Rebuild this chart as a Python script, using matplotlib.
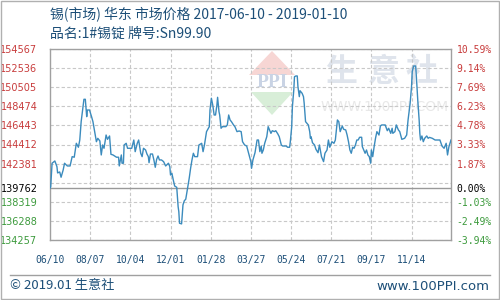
import numpy as np
import pandas as pd
import matplotlib
matplotlib.use("Agg")
import matplotlib.pyplot as plt
from matplotlib.patches import Polygon, Rectangle
from matplotlib.lines import Line2D

plt.rcParams['font.family'] = ['Noto Sans CJK SC', 'DejaVu Sans']

# --- dados ---
start = pd.Timestamp("2017-06-10")
days = [0, 1, 3, 7, 10, 11, 14, 16, 19, 21, 25, 29, 32, 35, 38, 41, 43, 45, 47, 49,
        51, 53, 54, 57, 60, 62, 65, 67, 69, 72, 74, 76, 78, 81, 83, 86, 88, 91, 96, 99,
        100, 103, 104, 106, 107, 110, 112, 118, 121, 123, 126, 128, 131, 133, 135, 138, 140, 142, 143, 145,
        148, 150, 152, 154, 156, 158, 161, 164, 167, 171, 173, 174, 176, 178, 180, 183, 185, 186, 187, 190,
        192, 194, 196, 199, 201, 203, 205, 207, 209, 213, 215, 219, 221, 223, 226, 230, 231, 233, 235, 237,
        239, 241, 242, 244, 245, 247, 249, 254, 256, 258, 260, 262, 265, 267, 270, 273, 276, 278, 281, 284,
        288, 290, 291, 293, 296, 299, 301, 303, 305, 306, 308, 310, 313, 315, 317, 319, 321, 324, 326, 329,
        331, 334, 336, 341, 343, 346, 347, 349, 350, 352, 353, 355, 357, 358, 360, 361, 364, 366, 367, 369,
        371, 373, 375, 376, 377, 379, 382, 384, 387, 389, 392, 394, 395, 397, 400, 402, 404, 407, 410, 412,
        415, 417, 419, 422, 424, 427, 429, 431, 433, 435, 437, 439, 441, 443, 445, 447, 450, 451, 453, 455,
        457, 459, 461, 463, 464, 466, 468, 470, 472, 475, 477, 479, 484, 487, 489, 492, 494, 495, 498, 500,
        503, 505, 508, 512, 515, 517, 520, 522, 523, 525, 528, 529, 531, 533, 534, 535, 537, 539, 541, 544,
        546, 548, 552, 556, 561, 563, 566, 569, 572, 574, 576, 579]
prices = [139762, 139930, 142420, 142660, 142060, 141390, 141490, 140930, 141700, 142420, 142130, 142130, 143120, 143060, 144540, 144120, 144890, 146840, 148080, 149220,
          149220, 147370, 148080, 148080, 147370, 146840, 145600, 144710, 145070, 144790, 143300, 144360, 144010, 145420, 144960, 145320, 143370, 143300, 143060, 143060,
          142130, 143300, 142420, 142420, 144360, 144540, 144010, 144010, 144890, 143650, 144540, 144890, 143480, 143120, 144010, 143830, 143400, 143120, 142480, 143400,
          143400, 142770, 141990, 142840, 143190, 142770, 142770, 142590, 142130, 142420, 142060, 141170, 141350, 140640, 140000, 139860, 137800, 137270, 136040, 135970,
          137990, 138440, 138590, 139930, 140820, 141880, 142770, 143480, 143120, 143120, 144360, 144540, 143650, 144360, 145780, 146310, 148080, 149330, 148610, 147550,
          147550, 148610, 149430, 147900, 147550, 146140, 146310, 146310, 146490, 147550, 147020, 146840, 146490, 146310, 145780, 145850, 145780, 144710, 144360, 144250,
          143120, 142590, 141880, 142770, 143540, 144890, 144890, 143650, 144250, 143480, 143830, 144540, 145240, 146310, 145960, 145600, 145880, 145780, 145880, 145530,
          145240, 144360, 144250, 144250, 144120, 144120, 144710, 146310, 148430, 150210, 151620, 151700, 151700, 150560, 149500, 150130, 149860, 149500, 148800, 146840,
          146670, 146490, 145780, 145070, 145240, 144600, 144360, 143900, 143540, 144360, 143120, 142770, 142590, 143480, 143830, 144890, 144120, 144710, 144540, 144890,
          147020, 146840, 145780, 146380, 146030, 145960, 145420, 144710, 143830, 143480, 144120, 144010, 144360, 144890, 144890, 145180, 145180, 144180, 143830, 143480,
          143830, 143300, 143120, 142420, 143830, 143120, 144180, 145070, 145780, 145420, 146380, 146490, 146490, 145880, 146140, 145600, 146140, 145600, 145780, 146490,
          145960, 145780, 144960, 145070, 145420, 147020, 148800, 150560, 152150, 152760, 152760, 151620, 149150, 147020, 145600, 144890, 145320, 144710, 145070, 145320,
          145070, 145170, 145070, 144890, 144890, 144890, 144250, 144010, 144540, 143300, 144180, 144890]

base_price = 139762
y_min, y_max = 134257, 154567
step = 2031
grid_vals = [y_max - k * step for k in range(11)]
label_vals = [154567, 152536, 150505, 148474, 146443, 144412, 142381, 139762, 138319, 136288, 134257]
tick_days = list(range(0, 579, 58))
end_day = 579

title1 = "锡(市场) 华东 市场价格 2017-06-10 - 2019-01-10"
title2 = "品名:1#锡锭 牌号:Sn99.90"

# --- cores ---
RED = "#c83c3c"
GREEN = "#3c9a3c"
BLUE_TXT = "#1d4f78"
LINE = "#3b8bbd"
GRID = "#c8c8c8"

fig = plt.figure(figsize=(5, 3), dpi=100)
ax = fig.add_axes([50 / 500, 1 - 240 / 300, 401 / 500, 191 / 300])
ax.patch.set_alpha(0)


def px(x, y):
    return (x / 500, 1 - y / 300)


# marca d'água
red_tri = Polygon([px(272, 51), px(249, 75), px(295, 75)], closed=True,
                  transform=fig.transFigure, facecolor="#f7d6d4", edgecolor="none", zorder=-2)
green_tri = Polygon([px(251, 92), px(293, 92), px(272, 115)], closed=True,
                    transform=fig.transFigure, facecolor="#d8eed8", edgecolor="none", zorder=-2)
fig.patches.extend([red_tri, green_tri])
fig.text(*px(272, 83), "PPI", ha="center", va="center", fontsize=14, fontweight="bold",
         family="Liberation Serif", color="#c9d3e4", zorder=-1)
for cx, ch in zip([341, 384, 422], "生意社"):
    fig.text(*px(cx, 72), ch, ha="center", va="center", fontsize=23, fontweight="bold",
             color="#dfe4ec", zorder=-1)
fig.text(*px(385, 107), "WWW.100PPI.COM", ha="center", va="center", fontsize=10,
         family="DejaVu Sans", color="#e8e8e8", zorder=-1)

# grade
for v in grid_vals:
    ax.axhline(v, color=GRID, lw=0.8, ls=(0, (3, 2)), zorder=1)
for d in tick_days[1:]:
    ax.axvline(d, color=GRID, lw=0.8, ls=(0, (3, 2)), zorder=1)
ax.axhline(base_price, color="#999999", lw=1.0, zorder=2)

ax.plot(days, prices, color=LINE, lw=1.0, zorder=3)

ax.set_xlim(0, end_day)
ax.set_ylim(y_min, y_max)
for s in ax.spines.values():
    s.set_color("#a0a0a0")
    s.set_linewidth(1.0)

# eixo y esquerdo
ax.set_yticks(label_vals)
ax.set_yticklabels([str(v) for v in label_vals], family="DejaVu Sans", fontsize=7)
for lab, v in zip(ax.get_yticklabels(), label_vals):
    lab.set_color("black" if v == base_price else (RED if v > base_price else GREEN))
ax.tick_params(axis="y", length=0, pad=9)

# eixo y direito
ax2 = ax.twinx()
ax2.set_ylim(y_min, y_max)
ax2.set_yticks(label_vals)
pct = ["%.2f%%" % ((v - base_price) / base_price * 100) for v in label_vals]
ax2.set_yticklabels(pct, family="DejaVu Sans Mono", fontsize=7)
for lab, v in zip(ax2.get_yticklabels(), label_vals):
    lab.set_color("black" if v == base_price else (RED if v > base_price else GREEN))
ax2.tick_params(axis="y", length=0, pad=4)
for s in ax2.spines.values():
    s.set_visible(False)

# eixo x
ax.set_xticks(tick_days)
ax.set_xticklabels([(start + pd.Timedelta(days=d)).strftime("%m/%d") for d in tick_days],
                   family="DejaVu Sans Mono", fontsize=7, color=BLUE_TXT)
ax.tick_params(axis="x", length=0, pad=11)

# títulos
fig.text(50 / 500, 1 - 15 / 300, title1, ha="left", va="center", fontsize=10, color=BLUE_TXT)
fig.text(50 / 500, 1 - 34 / 300, title2, ha="left", va="center", fontsize=10, color=BLUE_TXT)

# rodapé
fig.lines.append(Line2D([10 / 500, 490 / 500], [1 - 275 / 300] * 2, transform=fig.transFigure,
                        color="#a0a0a0", lw=1.0))
fig.text(10 / 500, 1 - 286 / 300, "© 2019.01 生意社", ha="left", va="center", fontsize=9.5,
         color=BLUE_TXT, family=["Noto Sans CJK SC", "DejaVu Sans"])
fig.text(489 / 500, 1 - 286 / 300, "www.100PPI.com", ha="right", va="center", fontsize=9.5,
         color=BLUE_TXT, family="DejaVu Sans")

# moldura
fig.patches.append(Rectangle((0.001, 0.002), 0.997, 0.996, transform=fig.transFigure,
                             fill=False, edgecolor="#b0b0b0", lw=1.0))

fig.savefig("out.png", dpi=100)
